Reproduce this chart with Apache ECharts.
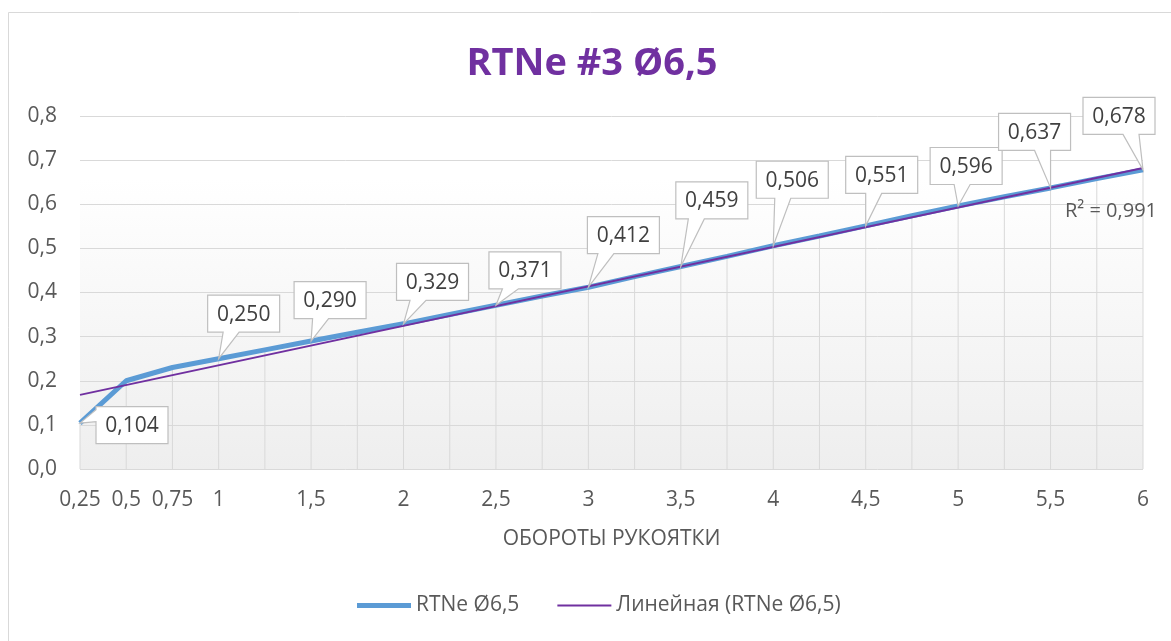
<!DOCTYPE html>
<html>
<head>
<meta charset="utf-8">
<script src="https://cdn.jsdelivr.net/npm/echarts@6/dist/echarts.min.js"></script>
<style>
  html, body { margin: 0; padding: 0; background: #ffffff; }
  #chart { width: 1171px; height: 641px; }
</style>
</head>
<body>
<div id="chart"></div>
<script>
// Handle turns (x) and measured opening (y)
const turns   = [0.25, 0.5, 0.75, 1, 1.25, 1.5, 1.75, 2, 2.25, 2.5, 2.75, 3, 3.25, 3.5, 3.75, 4, 4.25, 4.5, 4.75, 5, 5.25, 5.5, 5.75, 6];
const opening = [0.104, 0.200, 0.230, 0.250, 0.270, 0.290, 0.310, 0.329, 0.350, 0.371, 0.392, 0.412, 0.436, 0.459, 0.482, 0.506, 0.528, 0.551, 0.574, 0.596, 0.617, 0.637, 0.658, 0.678];

// Points that carry a value callout
const labelledTurns = [0.25, 1, 1.5, 2, 2.5, 3, 3.5, 4, 4.5, 5, 5.5, 6];

// Tick values that get a text label on the x axis
const xTickValues = [0.25, 0.5, 0.75, 1, 1.5, 2, 2.5, 3, 3.5, 4, 4.5, 5, 5.5, 6];

// Linear trendline end points and its fit quality
const trendTurns = [0.25, 6];
const trendValues = [0.168, 0.682];
const rSquaredText = 'R² = 0,991';

const seriesName = 'RTNe Ø6,5';
const trendName = 'Линейная (RTNe Ø6,5)';
const titleText = 'RTNe #3 Ø6,5';
const xAxisTitle = 'ОБОРОТЫ РУКОЯТКИ';

// Callout box placement relative to its point (px), one per labelled point
const calloutShift = [[52, 2], [25, -45], [19, -41], [29, -42], [29, -35], [35, -52],
                      [31, -66], [19, -66], [16, -51], [8, -40], [-16, -56], [-24, -54]];

const FONT = '"Open Sans", "Noto Sans", sans-serif';
const comma = v => String(v).replace('.', ',');

const mainData = turns.map((t, i) => [t, opening[i]]);
const calloutData = labelledTurns.map(t => [t, opening[turns.indexOf(t)]]);
const trendData = trendTurns.map((t, i) => [t, trendValues[i]]);

const chart = echarts.init(document.getElementById('chart'), null, { renderer: 'canvas' });

// Vertical drop line from each point down to the zero line
function renderDrop(params, api) {
  const top = api.coord([api.value(0), api.value(1)]);
  const base = api.coord([api.value(0), 0]);
  return {
    type: 'line',
    shape: { x1: top[0], y1: top[1], x2: base[0], y2: base[1] },
    style: { stroke: '#d9d9d9', lineWidth: 1 }
  };
}

// Boxed value label with a wedge pointing at its point
function renderCallout(params, api) {
  const v = api.value(1);
  const p = api.coord([api.value(0), v]);
  const s = calloutShift[params.dataIndex];
  const cx = p[0] + s[0], cy = p[1] + s[1];
  const w = 72, h = 37;
  const l = cx - w / 2, r = cx + w / 2, t = cy - h / 2, b = cy + h / 2;
  let pts;
  if (p[1] > b) {
    let bc = (p[0] + cx) / 2;
    bc = Math.max(l + 9, Math.min(r - 9, bc));
    pts = [[l, t], [r, t], [r, b], [bc + 8, b], p, [bc - 8, b], [l, b]];
  } else {
    const bc = t + 9;
    pts = [[l, t], [r, t], [r, b], [l, b], [l, bc + 6], p, [l, bc - 6]];
  }
  return {
    type: 'group',
    children: [
      { type: 'polygon', shape: { points: pts },
        style: { fill: '#ffffff', stroke: '#bfbfbf', lineWidth: 1.2 } },
      { type: 'text', x: cx, y: cy + 1,
        style: { text: v.toFixed(3).replace('.', ','), fill: '#404040',
                 font: '21px ' + FONT, align: 'center', verticalAlign: 'middle' } }
    ]
  };
}

const option = {
  animation: false,
  backgroundColor: '#ffffff',
  title: {
    text: titleText,
    left: 592,
    top: 45,
    textAlign: 'center',
    padding: 0,
    textStyle: { color: '#7030a0', fontFamily: FONT, fontWeight: 'bold', fontSize: 38 }
  },
  graphic: [
    { type: 'rect', silent: true, z: -10,
      shape: { x: 8.5, y: 12.5, width: 1400, height: 800 },
      style: { fill: 'none', stroke: '#d9d9d9', lineWidth: 1 } },
    { type: 'text', left: 1065, top: 201, z: 20,
      style: { text: rSquaredText, fill: '#595959', font: '20px ' + FONT } }
  ],
  legend: {
    data: [
      { name: seriesName, icon: 'path://M0,0 L54,0 L54,5 L0,5 Z' },
      { name: trendName, icon: 'path://M0,0 L54,0 L54,2 L0,2 Z' }
    ],
    left: 357,
    top: 595,
    padding: 0,
    itemWidth: 54,
    itemHeight: 14,
    itemGap: 38,
    textStyle: { color: '#595959', fontFamily: FONT, fontSize: 21, padding: [0, 0, 0, 0] }
  },
  grid: {
    left: 80, right: 28, top: 116, bottom: 172,
    show: true, borderWidth: 0,
    backgroundColor: new echarts.graphic.LinearGradient(0, 0, 0, 1, [
      { offset: 0, color: '#ffffff' },
      { offset: 0.18, color: '#ffffff' },
      { offset: 1, color: '#eeeeee' }
    ])
  },
  xAxis: {
    type: 'value',
    min: 0.25, max: 6, interval: 0.25,
    name: xAxisTitle,
    nameLocation: 'middle',
    nameGap: 60,
    nameTextStyle: { color: '#595959', fontFamily: FONT, fontSize: 21 },
    axisLine: { show: false },
    axisTick: { show: false },
    splitLine: { show: false },
    axisLabel: {
      color: '#595959', fontFamily: FONT, fontSize: 21, margin: 21,
      showMinLabel: true, showMaxLabel: true,
      formatter: v => xTickValues.some(t => Math.abs(t - v) < 1e-6) ? comma(+v.toFixed(2)) : ''
    }
  },
  yAxis: {
    type: 'value',
    min: 0, max: 0.8, interval: 0.1,
    axisLine: { show: false },
    axisTick: { show: false },
    splitLine: { lineStyle: { color: '#d9d9d9', width: 1 } },
    axisLabel: {
      color: '#595959', fontFamily: FONT, fontSize: 21, margin: 23,
      formatter: v => v.toFixed(1).replace('.', ',')
    }
  },
  series: [
    { name: 'drop', type: 'custom', renderItem: renderDrop, data: mainData, z: 1, silent: true },
    { name: seriesName, type: 'line', data: mainData, symbol: 'none', z: 3,
      lineStyle: { color: '#5b9bd5', width: 5 }, itemStyle: { color: '#5b9bd5' } },
    { name: trendName, type: 'line', data: trendData, symbol: 'none', z: 4,
      lineStyle: { color: '#7030a0', width: 2 }, itemStyle: { color: '#7030a0' } },
    { name: 'callouts', type: 'custom', renderItem: renderCallout, data: calloutData, z: 10, silent: true, clip: false }
  ]
};

chart.setOption(option);
</script>
</body>
</html>
